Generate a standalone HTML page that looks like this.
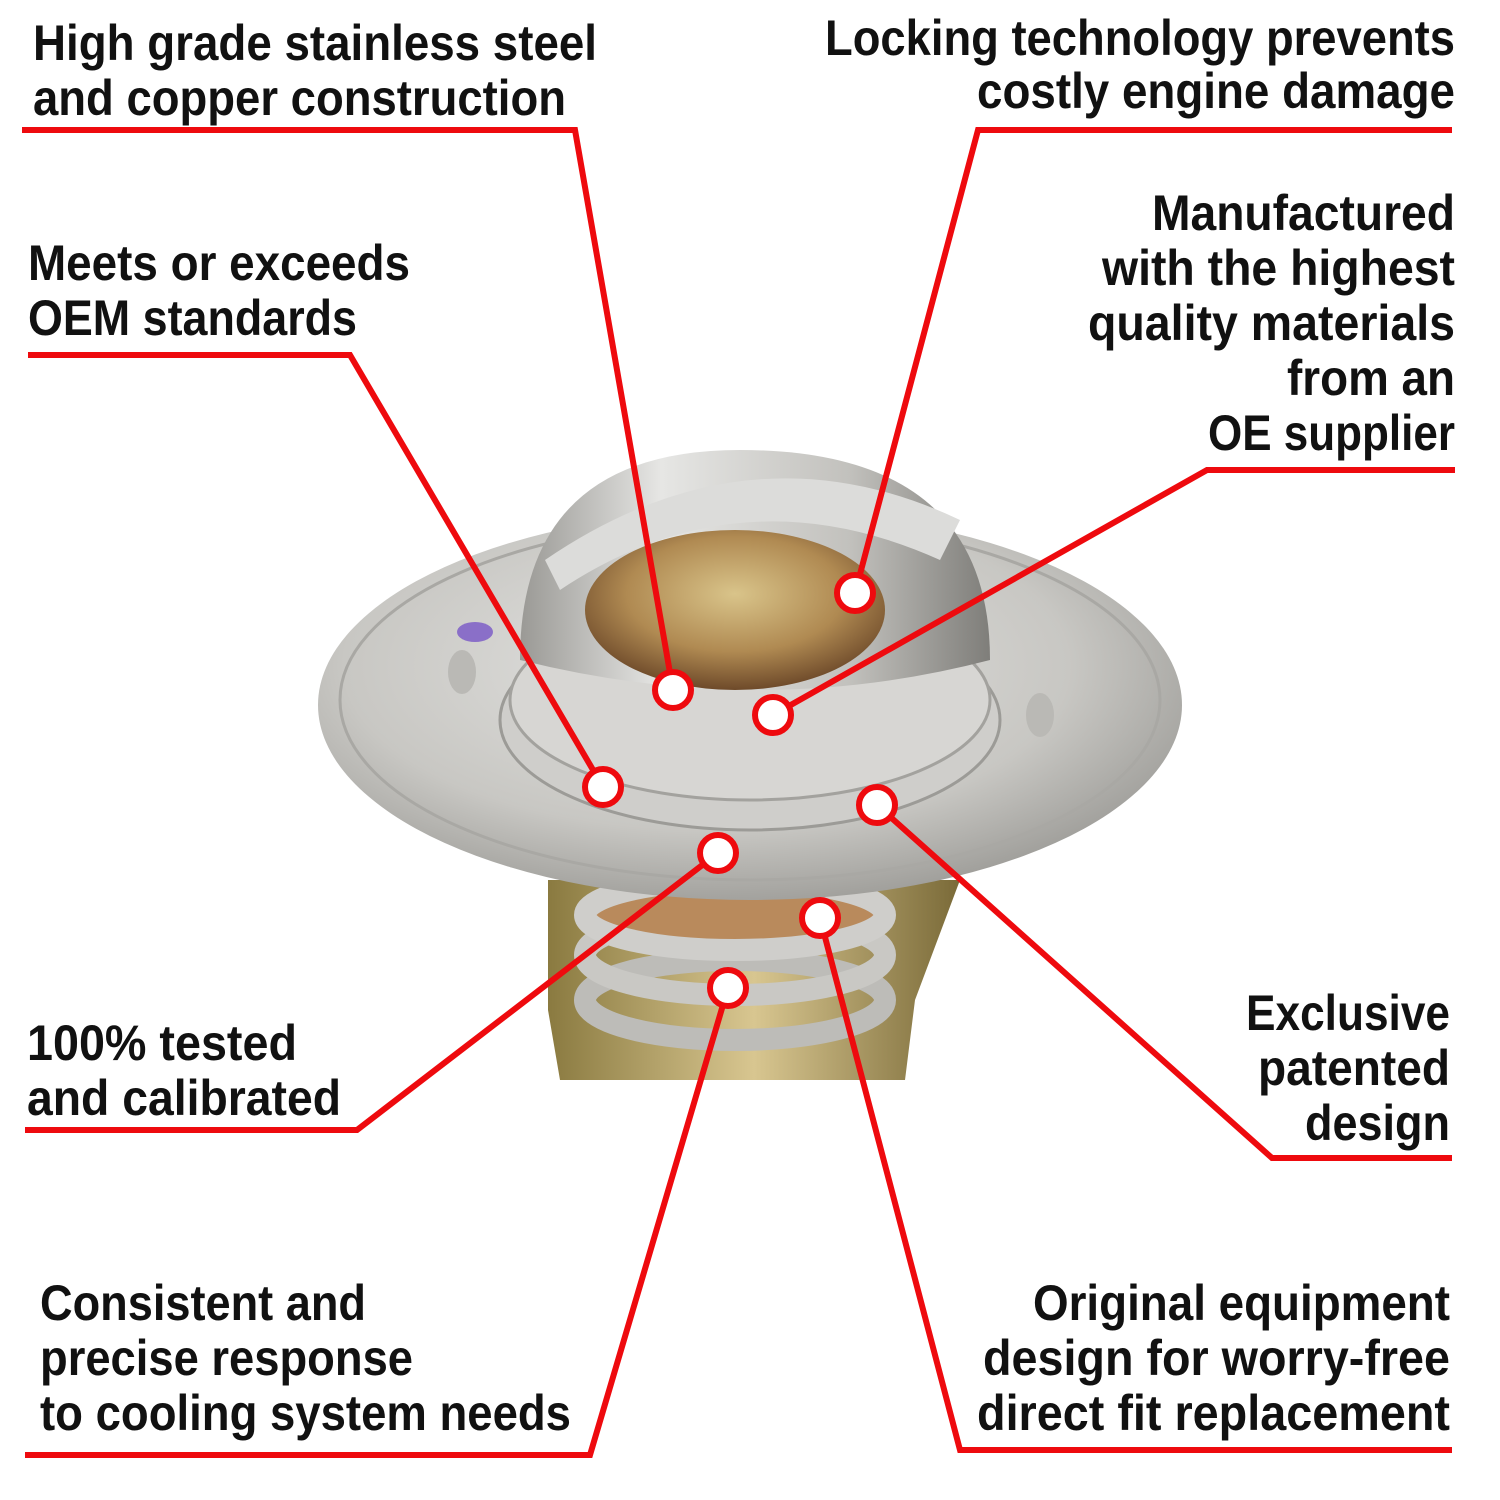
<!DOCTYPE html>
<html><head><meta charset="utf-8"><style>
html,body{margin:0;padding:0;background:#fff;}
svg{display:block;}
text{font-family:"Liberation Sans Narrow","Liberation Sans",sans-serif;font-weight:bold;font-size:50px;fill:#111;}
</style></head><body>
<svg width="1500" height="1500" viewBox="0 0 1500 1500" xmlns="http://www.w3.org/2000/svg">
<defs>
<radialGradient id="steel" cx="0.45" cy="0.4" r="0.7">
<stop offset="0" stop-color="#e4e4e2"/><stop offset="0.6" stop-color="#c8c7c3"/><stop offset="1" stop-color="#8f8e8a"/></radialGradient>
<linearGradient id="dome" x1="0" y1="0" x2="1" y2="0">
<stop offset="0" stop-color="#9a9995"/><stop offset="0.3" stop-color="#e6e6e4"/><stop offset="0.7" stop-color="#c2c1bd"/><stop offset="1" stop-color="#7f7e7a"/></linearGradient>
<radialGradient id="brass" cx="0.5" cy="0.4" r="0.6">
<stop offset="0" stop-color="#d9c48a"/><stop offset="0.6" stop-color="#b08a52"/><stop offset="1" stop-color="#6e4a2a"/></radialGradient>
<linearGradient id="cage" x1="0" y1="0" x2="1" y2="0">
<stop offset="0" stop-color="#8a7a40"/><stop offset="0.5" stop-color="#d8c690"/><stop offset="1" stop-color="#7a6a38"/></linearGradient>
</defs>
<!-- lower cage -->
<path d="M548 880 L960 880 L915 1000 L905 1080 L560 1080 L548 1010 Z" fill="url(#cage)"/>
<ellipse cx="735" cy="1000" rx="150" ry="40" fill="none" stroke="#bdbcb8" stroke-width="22"/>
<ellipse cx="735" cy="955" rx="150" ry="40" fill="none" stroke="#c9c8c4" stroke-width="22"/>
<ellipse cx="735" cy="915" rx="150" ry="35" fill="#b98a5c" stroke="#cfcecb" stroke-width="22"/>
<!-- flange -->
<ellipse cx="750" cy="705" rx="432" ry="195" fill="url(#steel)"/>
<ellipse cx="750" cy="700" rx="410" ry="180" fill="none" stroke="#a9a8a4" stroke-width="3"/>
<ellipse cx="750" cy="720" rx="250" ry="110" fill="#cfcecb" stroke="#9c9b97" stroke-width="3"/>
<ellipse cx="750" cy="700" rx="240" ry="100" fill="#d7d6d3" stroke="#a3a29e" stroke-width="3"/>
<!-- dome -->
<path d="M520 660 Q520 450 740 450 Q990 450 990 660 Q760 720 520 660 Z" fill="url(#dome)"/>
<ellipse cx="735" cy="610" rx="150" ry="80" fill="url(#brass)"/>
<path d="M560 590 Q740 470 940 560 L960 520 Q750 420 545 560 Z" fill="#dcdcda"/>
<ellipse cx="475" cy="632" rx="18" ry="10" fill="#8a6fc8"/>
<ellipse cx="462" cy="672" rx="14" ry="22" fill="#bab9b5"/>
<ellipse cx="1040" cy="715" rx="14" ry="22" fill="#bab9b5"/>
<!-- callout lines -->
<g fill="none" stroke="#ee0a0e" stroke-width="6" stroke-linejoin="miter">
<polyline points="22,130 575,130 673,690"/>
<polyline points="1452,130 978,130 855,593"/>
<polyline points="28,355 350,355 603,787"/>
<polyline points="1455,470 1207,470 773,715"/>
<polyline points="1452,1158 1272,1158 877,805"/>
<polyline points="25,1130 357,1130 718,853"/>
<polyline points="25,1455 590,1455 728,988"/>
<polyline points="1452,1450 960,1450 820,918"/>
</g>
<g fill="#fff" stroke="#ee0a0e" stroke-width="6">
<circle cx="673" cy="690" r="18"/><circle cx="855" cy="593" r="18"/>
<circle cx="603" cy="787" r="18"/><circle cx="773" cy="715" r="18"/>
<circle cx="877" cy="805" r="18"/><circle cx="718" cy="853" r="18"/>
<circle cx="728" cy="988" r="18"/><circle cx="820" cy="918" r="18"/>
</g>
<!-- labels -->
<g lengthAdjust="spacingAndGlyphs">
<text x="33" y="60" textLength="564" lengthAdjust="spacingAndGlyphs">High grade stainless steel</text>
<text x="33" y="115" textLength="533" lengthAdjust="spacingAndGlyphs">and copper construction</text>
<text x="825" y="55" textLength="630" lengthAdjust="spacingAndGlyphs">Locking technology prevents</text>
<text x="977" y="108" textLength="478" lengthAdjust="spacingAndGlyphs">costly engine damage</text>
<text x="28" y="280" textLength="382" lengthAdjust="spacingAndGlyphs">Meets or exceeds</text>
<text x="28" y="335" textLength="329" lengthAdjust="spacingAndGlyphs">OEM standards</text>
<text x="1152" y="230" textLength="303" lengthAdjust="spacingAndGlyphs">Manufactured</text>
<text x="1102" y="285" textLength="353" lengthAdjust="spacingAndGlyphs">with the highest</text>
<text x="1088" y="340" textLength="367" lengthAdjust="spacingAndGlyphs">quality materials</text>
<text x="1287" y="395" textLength="168" lengthAdjust="spacingAndGlyphs">from an</text>
<text x="1208" y="450" textLength="247" lengthAdjust="spacingAndGlyphs">OE supplier</text>
<text x="1246" y="1030" textLength="204" lengthAdjust="spacingAndGlyphs">Exclusive</text>
<text x="1258" y="1085" textLength="192" lengthAdjust="spacingAndGlyphs">patented</text>
<text x="1305" y="1140" textLength="145" lengthAdjust="spacingAndGlyphs">design</text>
<text x="27" y="1060" textLength="270" lengthAdjust="spacingAndGlyphs">100% tested</text>
<text x="27" y="1115" textLength="314" lengthAdjust="spacingAndGlyphs">and calibrated</text>
<text x="40" y="1320" textLength="326" lengthAdjust="spacingAndGlyphs">Consistent and</text>
<text x="40" y="1375" textLength="373" lengthAdjust="spacingAndGlyphs">precise response</text>
<text x="40" y="1430" textLength="531" lengthAdjust="spacingAndGlyphs">to cooling system needs</text>
<text x="1033" y="1320" textLength="417" lengthAdjust="spacingAndGlyphs">Original equipment</text>
<text x="983" y="1375" textLength="467" lengthAdjust="spacingAndGlyphs">design for worry-free</text>
<text x="977" y="1430" textLength="473" lengthAdjust="spacingAndGlyphs">direct fit replacement</text>
</g>
</svg>
</body></html>
